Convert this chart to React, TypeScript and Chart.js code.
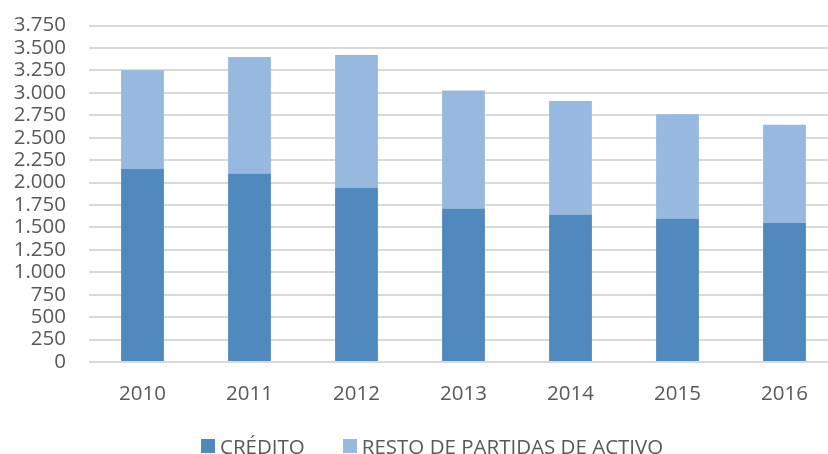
import React, { useEffect, useRef } from "react";
import { Chart, registerables } from "chart.js";

Chart.register(...registerables);

const categories = ["2010", "2011", "2012", "2013", "2014", "2015", "2016"];
const credito = [2150, 2100, 1940, 1710, 1645, 1600, 1550];
const resto = [1100, 1300, 1480, 1315, 1265, 1160, 1095];
const seriesLabels = ["CRÉDITO", "RESTO DE PARTIDAS DE ACTIVO"];
const seriesColors = ["#4F89BD", "#97B9E0"];
const yMin = 0;
const yMax = 3750;
const yStep = 250;

const FONT = "'Open Sans', sans-serif";
const TEXT = "#595959";
const FONT_SIZE = 20.5;

const fmt = (v: number) => String(v).replace(/\B(?=(\d{3})+(?!\d))/g, ".");

export default function App() {
  const ref = useRef<HTMLCanvasElement | null>(null);

  useEffect(() => {
    if (!ref.current) return;
    const chart = new Chart(ref.current, {
      type: "bar",
      data: {
        labels: categories,
        datasets: [
          {
            label: seriesLabels[0],
            data: credito,
            backgroundColor: seriesColors[0],
            borderWidth: 0,
            barPercentage: 0.4,
            categoryPercentage: 1,
          },
          {
            label: seriesLabels[1],
            data: resto,
            backgroundColor: seriesColors[1],
            borderWidth: 0,
            barPercentage: 0.4,
            categoryPercentage: 1,
          },
        ],
      },
      options: {
        responsive: false,
        animation: false,
        layout: { padding: { top: 25.5, left: 0, right: 2, bottom: 0 } },
        plugins: {
          legend: { display: false },
          tooltip: { enabled: false },
        },
        scales: {
          x: {
            stacked: true,
            grid: { display: false },
            border: { display: false },
            ticks: {
              color: TEXT,
              font: { family: FONT, size: FONT_SIZE, lineHeight: 1 },
              padding: 14,
            },
            afterFit: (s: any) => {
              s.height = 92;
            },
          },
          y: {
            stacked: true,
            min: yMin,
            max: yMax,
            border: { display: false },
            grid: { color: "#D9D9D9", lineWidth: 2, drawTicks: false },
            ticks: {
              stepSize: yStep,
              autoSkip: false,
              color: TEXT,
              font: { family: FONT, size: FONT_SIZE, lineHeight: 1 },
              padding: 23,
              callback: (v: any) => fmt(Number(v)),
            },
            afterFit: (s: any) => {
              s.width = 89;
              s.paddingTop = 0;
              s.paddingBottom = 0;
            },
          },
        },
      },
    });
    return () => chart.destroy();
  }, []);

  return (
    <div
      style={{
        position: "fixed",
        left: 0,
        top: 0,
        width: 828,
        height: 454,
        overflow: "hidden",
        background: "#fff",
      }}
    >
      <canvas ref={ref} width={840} height={454} style={{ display: "block" }} />
      <div
        style={{
          position: "absolute",
          left: 201,
          top: 436,
          display: "flex",
          alignItems: "center",
          fontFamily: FONT,
          fontSize: FONT_SIZE,
          lineHeight: "20px",
          color: TEXT,
          whiteSpace: "nowrap",
        }}
      >
        {seriesLabels.map((l, i) => (
          <div
            key={l}
            style={{ display: "flex", alignItems: "center", marginRight: i === 0 ? 38 : 0 }}
          >
            <span
              style={{
                display: "inline-block",
                width: 14,
                height: 14,
                background: seriesColors[i],
                marginRight: 5,
              }}
            />
            <span>{l}</span>
          </div>
        ))}
      </div>
    </div>
  );
}
